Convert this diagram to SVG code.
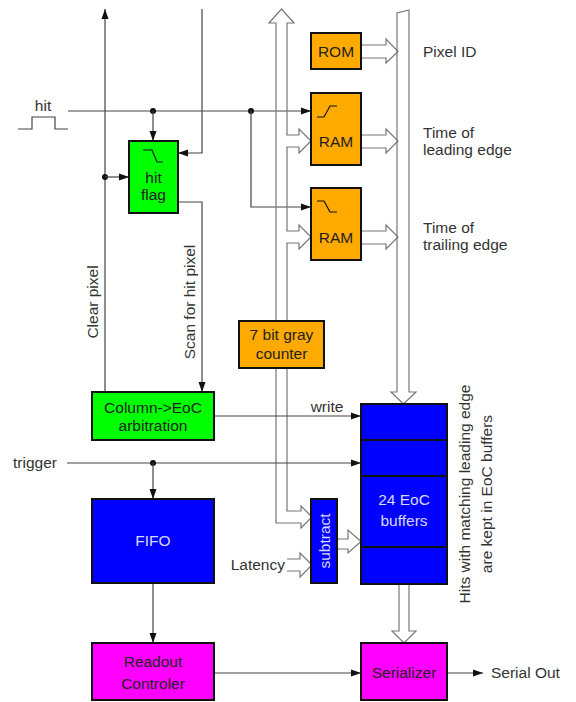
<svg xmlns="http://www.w3.org/2000/svg" width="576" height="702" viewBox="0 0 576 702">
<defs>
<marker id="ah" markerUnits="userSpaceOnUse" markerWidth="11" markerHeight="8" refX="10" refY="4" orient="auto">
<path d="M0,0.5 L10,4 L0,7.5 z" fill="#111"/>
</marker>
<style>
.box{stroke:#111;stroke-width:2}
.ln{fill:none;stroke:#444;stroke-width:1.2}
.bus{fill:none;stroke:#777;stroke-width:1.2}
.busw{fill:#fff;stroke:#777;stroke-width:1.2}
.t{font-family:"Liberation Sans",Arial,sans-serif;font-size:15.5px;fill:#333}
.tc{font-family:"Liberation Sans",Arial,sans-serif;font-size:15.5px;fill:#222;text-anchor:middle}
.tw{font-family:"Liberation Sans",Arial,sans-serif;font-size:15.5px;fill:#d8d8ff;text-anchor:middle}
.dot{fill:#111}
.sym{fill:none;stroke:#111;stroke-width:1.2}
</style>
</defs>
<rect width="576" height="702" fill="#fff"/>

<g id="connectors">
<!-- hit pulse -->
<polyline class="ln" points="18,129 32,129 32,117 55,117 55,129 68,129"/>
<text class="t" x="43" y="111" text-anchor="middle">hit</text>
<!-- hit line -->
<line class="ln" x1="68" y1="111" x2="311" y2="111" marker-end="url(#ah)"/>
<circle class="dot" cx="153" cy="111" r="3"/>
<circle class="dot" cx="251" cy="111" r="3"/>
<line class="ln" x1="153" y1="111" x2="153" y2="141" marker-end="url(#ah)"/>
<polyline class="ln" points="251,111 251,207 311,207" marker-end="url(#ah)"/>
<!-- clear pixel -->
<line class="ln" x1="105" y1="392" x2="105" y2="9" marker-end="url(#ah)"/>
<circle class="dot" cx="105" cy="177" r="3"/>
<line class="ln" x1="105" y1="177" x2="129" y2="177" marker-end="url(#ah)"/>
<text class="t" transform="translate(98,302) rotate(-90)" text-anchor="middle">Clear pixel</text>
<!-- top line into hit flag -->
<polyline class="ln" points="202,9 202,153 178,153" marker-end="url(#ah)"/>
<!-- scan for hit pixel -->
<polyline class="ln" points="178,202 202,202 202,392" marker-end="url(#ah)"/>
<text class="t" transform="translate(195,302) rotate(-90)" text-anchor="middle">Scan for hit pixel</text>
<!-- left bus -->
<path class="bus" d="M276,523 V23 H269 L281.5,9 L294,23 H287 V135 H299 V129 L311,141 L299,153 V147 H287 V231 H299 V225 L311,237 L299,249 V243 H287 V511 H301 V506 L312,517 L301,528 V523 Z"/>
<!-- right bus -->
<path class="busw" d="M397,392 V13 L409,10 V392 H416 L403.5,404 L391,392 Z"/>
<!-- ROM/RAM outputs -->
<path class="bus" d="M361,45 H386 V39 L398,51.5 L386,63 V58 H361"/>
<path class="bus" d="M361,135 H386 V129 L398,141 L386,153 V148 H361"/>
<path class="bus" d="M361,231 H386 V225 L398,237 L386,249 V244 H361"/>
<!-- write -->
<line class="ln" x1="214" y1="416" x2="361" y2="416" marker-end="url(#ah)"/>
<text class="t" x="327" y="412" text-anchor="middle">write</text>
<!-- trigger -->
<text class="t" x="13" y="468">trigger</text>
<line class="ln" x1="67" y1="463" x2="361" y2="463" marker-end="url(#ah)"/>
<circle class="dot" cx="153" cy="463" r="3"/>
<line class="ln" x1="153" y1="463" x2="153" y2="499" marker-end="url(#ah)"/>
<!-- latency -->
<text class="t" x="285" y="570" text-anchor="end">Latency</text>
<path class="bus" d="M287,559 H300 V553 L312,565 L300,577 V571 H287"/>
<!-- subtract out -->
<path class="bus" d="M337,539 H348 V530 L361,541.5 L348,553 V549 H337"/>
<!-- buffers to serializer -->
<path class="busw" d="M399,584 V631 H392 L404,643 L416,631 H409 V584"/>
<!-- FIFO to readout -->
<line class="ln" x1="153" y1="583" x2="153" y2="643" marker-end="url(#ah)"/>
<!-- readout to serializer -->
<line class="ln" x1="214" y1="673" x2="361" y2="673" marker-end="url(#ah)"/>
<!-- serial out -->
<line class="ln" x1="447" y1="673" x2="483" y2="673" marker-end="url(#ah)"/>
<text class="t" x="491" y="678">Serial Out</text>
<!-- right labels -->
<text class="t" x="423" y="57">Pixel ID</text>
<text class="t" x="423" y="138">Time of</text>
<text class="t" x="423" y="155">leading edge</text>
<text class="t" x="423" y="233">Time of</text>
<text class="t" x="423" y="250">trailing edge</text>
<text class="t" transform="translate(470,494) rotate(-90)" text-anchor="middle">Hits with matching leading edge</text>
<text class="t" transform="translate(492,494) rotate(-90)" text-anchor="middle">are kept in EoC buffers</text>
</g>

<g id="hitflag">
<rect class="box" x="129" y="141" width="49" height="72" fill="#00ff00"/>
<polyline class="sym" points="143,150 152,150 157,162 163,162"/>
<text class="tc" x="153.5" y="183">hit</text>
<text class="tc" x="153.5" y="200">flag</text>
</g>

<g id="rom">
<rect class="box" x="311" y="33" width="50" height="36" fill="#ffaa00"/>
<text class="tc" x="336" y="57">ROM</text>
</g>

<g id="ram1">
<rect class="box" x="311" y="93" width="50" height="72" fill="#ffaa00"/>
<polyline class="sym" points="317,117 324,117 330,106 337,106"/>
<text class="tc" x="336" y="147">RAM</text>
</g>

<g id="ram2">
<rect class="box" x="311" y="188" width="50" height="72" fill="#ffaa00"/>
<polyline class="sym" points="317,201 324,201 330,212 337,212"/>
<text class="tc" x="336" y="243">RAM</text>
</g>

<g id="counter">
<rect class="box" x="239" y="321" width="85" height="47" fill="#ffaa00"/>
<text class="tc" x="281.5" y="340">7 bit gray</text>
<text class="tc" x="281.5" y="359">counter</text>
</g>

<g id="arbitration">
<rect class="box" x="92" y="392" width="122" height="48" fill="#00ff00"/>
<text class="tc" x="153" y="413">Column-&gt;EoC</text>
<text class="tc" x="153" y="431">arbitration</text>
</g>

<g id="fifo">
<rect class="box" x="92" y="499" width="122" height="84" fill="#0000ff"/>
<text class="tw" x="153" y="546">FIFO</text>
</g>

<g id="subtract">
<rect class="box" x="311" y="499" width="26" height="84" fill="#0000ff"/>
<text class="tw" transform="translate(330,541) rotate(-90)">subtract</text>
</g>

<g id="buffers">
<rect class="box" x="361" y="404" width="86" height="180" fill="#0000ff"/>
<line class="box" x1="361" y1="440" x2="447" y2="440"/>
<line class="box" x1="361" y1="476" x2="447" y2="476"/>
<line class="box" x1="361" y1="547" x2="447" y2="547"/>
<text class="tw" x="404" y="505">24 EoC</text>
<text class="tw" x="404" y="526">buffers</text>
</g>

<g id="readout">
<rect class="box" x="92" y="643" width="122" height="57" fill="#ff00ff"/>
<text class="tc" x="153" y="667">Readout</text>
<text class="tc" x="153" y="689">Controler</text>
</g>

<g id="serializer">
<rect class="box" x="361" y="643" width="86" height="57" fill="#ff00ff"/>
<text class="tc" x="404" y="678">Serializer</text>
</g>
</svg>
